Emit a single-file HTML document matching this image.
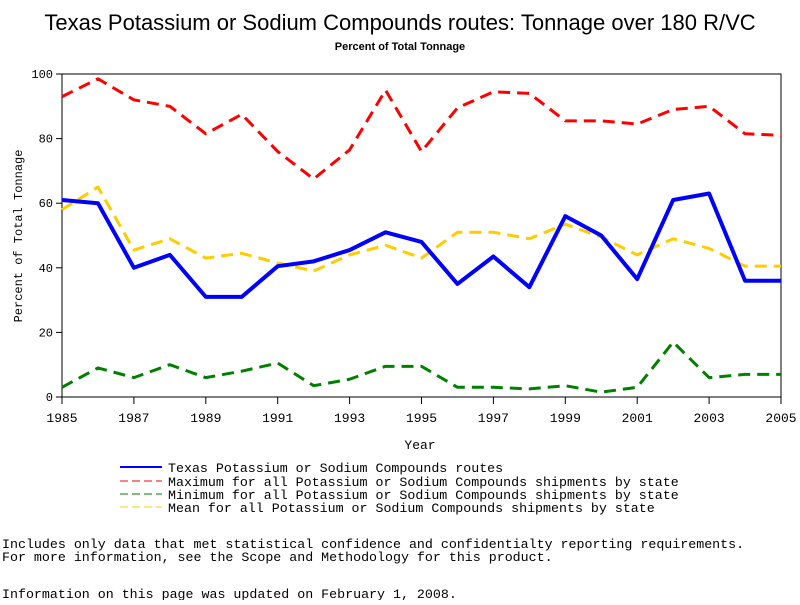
<!DOCTYPE html>
<html><head><meta charset="utf-8"><style>
body{margin:0;background:#fff;width:800px;height:600px;overflow:hidden}
svg text{font-family:"Liberation Mono",monospace}
</style></head><body>
<svg id="chart" width="800" height="600">
<text x="400" y="30" text-anchor="middle" font-size="22" style="font-family:'Liberation Sans',sans-serif">Texas Potassium or Sodium Compounds routes: Tonnage over 180 R/VC</text>
<text x="400" y="50" text-anchor="middle" font-size="11" font-weight="bold" style="font-family:'Liberation Sans',sans-serif">Percent of Total Tonnage</text>
<g id="axes"></g><g id="series"></g>
<text x="420" y="449" text-anchor="middle" font-size="13">Year</text>
<text transform="translate(22,236) rotate(-90)" text-anchor="middle" font-size="12">Percent of Total Tonnage</text>
<g font-size="13.3">
<line x1="120" y1="467" x2="162" y2="467" stroke="#0000ff" stroke-width="2"/>
<text x="168" y="472">Texas Potassium or Sodium Compounds routes</text>
<line x1="120" y1="481" x2="162" y2="481" stroke="#ff0000" stroke-width="1" stroke-dasharray="8,4"/>
<text x="168" y="486">Maximum for all Potassium or Sodium Compounds shipments by state</text>
<line x1="120" y1="494" x2="162" y2="494" stroke="#008000" stroke-width="1" stroke-dasharray="8,4"/>
<text x="168" y="499">Minimum for all Potassium or Sodium Compounds shipments by state</text>
<line x1="120" y1="507" x2="162" y2="507" stroke="#ffcc00" stroke-width="1" stroke-dasharray="8,4"/>
<text x="168" y="512">Mean for all Potassium or Sodium Compounds shipments by state</text>
</g>
<text x="2" y="548" font-size="13.3">Includes only data that met statistical confidence and confidentialty reporting requirements.</text>
<text x="2" y="561" font-size="13.3">For more information, see the Scope and Methodology for this product.</text>
<text x="2" y="598" font-size="13.3">Information on this page was updated on February 1, 2008.</text>
</svg>
<script>
const years=[1985,1986,1987,1988,1989,1990,1991,1992,1993,1994,1995,1996,1997,1998,1999,2000,2001,2002,2003,2004,2005];
const texasVals=[61,60,40,44,31,31,40.5,42,45.5,51,48,35,43.5,34,56,50,36.5,61,63,36,36];
const maxVals=[93,98.5,92,90,81.5,87.5,76,67.5,76.5,95,76,89.5,94.5,94,85.5,85.5,84.5,89,90,81.5,81];
const minVals=[3,9,6,10,6,8,10.5,3.5,5.5,9.5,9.5,3,3,2.5,3.5,1.5,3,17,6,7,7];
const meanVals=[58,65,45.5,49,43,44.5,41.5,39,44,47,43,51,51,49,53.5,49.5,44,49,46,40.5,40.5];
const xTicks=[1985,1987,1989,1991,1993,1995,1997,1999,2001,2003,2005];
const yTicks=[0,20,40,60,80,100];
const NS="http://www.w3.org/2000/svg";
const L=62,R=781,T=74,B=397;
const xs=v=>L+(v-1985)/20*(R-L);
const ys=v=>B-v/100*(B-T);
const ax=document.getElementById('axes'),se=document.getElementById('series');
function mk(tag,attrs,parent){const e=document.createElementNS(NS,tag);for(const k in attrs)e.setAttribute(k,attrs[k]);parent.appendChild(e);return e;}
const frame=mk('rect',{x:L,y:T,width:R-L,height:B-T,fill:'none',stroke:'#000','stroke-width':1},ax);


xTicks.forEach(t=>{
 const l=mk('line',{x1:xs(t),x2:xs(t),y1:B,y2:B+7,stroke:'#000'},ax);
 
 
 const tx=mk('text',{x:xs(t),y:B+25,'text-anchor':'middle','font-size':13},ax);tx.textContent=t;
 
 
});
yTicks.forEach(t=>{
 const l=mk('line',{x1:L-6,x2:L,y1:ys(t),y2:ys(t),stroke:'#000'},ax);
 
 
 const tx=mk('text',{x:L-9,y:ys(t)+4,'text-anchor':'end','font-size':12},ax);tx.textContent=t;
 
 
});
function line(vals,color,w,dash,name){
 const p=mk('polyline',{points:vals.map((v,i)=>xs(years[i])+','+ys(v)).join(' '),fill:'none',stroke:color,'stroke-width':w,'stroke-linejoin':'round'},se);
 if(dash)p.setAttribute('stroke-dasharray',dash);
 
 
}
line(maxVals,'#ff0000',3,'12,7','max-line');
line(minVals,'#008000',3,'12,7','min-line');
line(meanVals,'#ffcc00',3,'12,7','mean-line');
line(texasVals,'#0000ff',4,null,'texas-line');
</script>
</body></html>
